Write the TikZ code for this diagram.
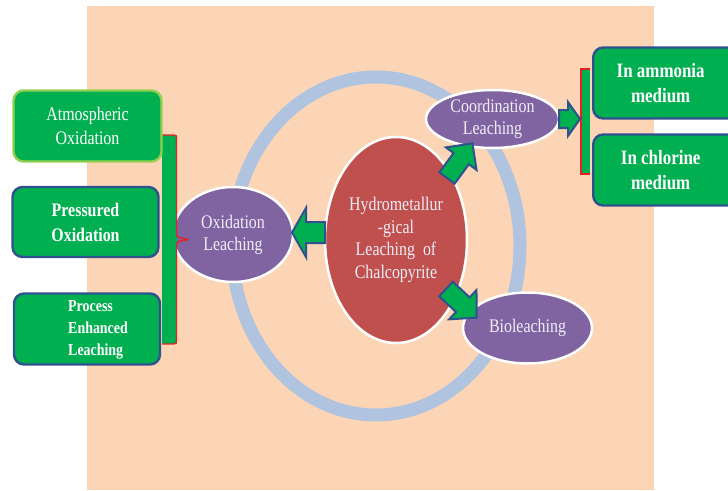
\documentclass[tikz,border=0pt]{standalone}
\usepackage{fontspec}
\setmainfont{Liberation Serif}[FakeStretch=0.83]
\usetikzlibrary{shapes.geometric}
\definecolor{peach}{RGB}{251,213,181}
\definecolor{ringc}{RGB}{176,196,224}
\definecolor{boxgreen}{RGB}{0,176,80}
\definecolor{boxblue}{RGB}{47,82,143}
\definecolor{lightgreen}{RGB}{146,208,80}
\definecolor{purp}{RGB}{128,100,162}
\definecolor{redell}{RGB}{192,80,77}
\definecolor{brred}{RGB}{232,32,32}
\definecolor{lav}{RGB}{240,236,248}
\newcommand\blockarrow[6]{%
  \begin{scope}[shift={(#1)},rotate=#2]
    \draw[barrow] (0,-#4) -- ({#3-#6},-#4) -- ({#3-#6},-#5) -- (#3,0)
      -- ({#3-#6},#5) -- ({#3-#6},#4) -- (0,#4) -- cycle;
  \end{scope}}
\tikzset{
  gbox/.style={draw=boxblue, fill=boxgreen, line width=2.4pt, rounded corners=10pt,
    text=white, align=center, inner sep=0pt},
  ell/.style={ellipse, draw=white, line width=2.5pt, text=lav, align=center, inner sep=0pt,
    font=\fontsize{19.2}{22}\selectfont},
  barrow/.style={draw=boxblue, fill=boxgreen, line width=2pt, line join=miter},
}
\begin{document}
\begin{tikzpicture}[x=1pt,y=-1pt]
\clip (0,0) rectangle (728,490);
\useasboundingbox (0,0) rectangle (728,490);
% background
\fill[peach] (87,6) rectangle (654,490);
% ring
\draw[ringc, line width=13pt] (376,246) ellipse [x radius=144, y radius=169];
% ellipses
\node[ell, fill=redell, minimum width=142pt, minimum height=206pt,
  font=\fontsize{19.2}{22.5}\selectfont] (hyd) at (396,240)
  {Hydrometallur\\-gical\\Leaching\ \ of\\Chalcopyrite};
\node[ell, fill=purp, minimum width=120pt, minimum height=95pt] (oxl) at (233,234.5)
  {Oxidation\\Leaching};
\node[ell, fill=purp, minimum width=133pt, minimum height=58pt] (col) at (492.5,119)
  {Coordination\\Leaching};
\node[ell, fill=purp, minimum width=129pt, minimum height=71pt] (bio) at (527.5,328)
  {Bioleaching};
% left bracket
\fill[boxgreen] (162,135) rectangle (176.5,344);
\draw[brred, line width=1.3pt, rounded corners=2.5pt]
  (162,135) -- (176.5,135) -- (176.5,237) -- (189,239.5) -- (176.5,242)
  -- (176.5,344) -- (162,344);
% right bracket
\fill[boxgreen] (581,69) rectangle (590,174);
\draw[brred, line width=1.6pt] (590,69) -- (581,69) -- (581,174) -- (590,174);
% left boxes
\node[gbox, draw=lightgreen, minimum width=148pt, minimum height=71pt,
  font=\fontsize{19.2}{24}\selectfont] (atm) at (87.5,126) {Atmospheric\\Oxidation};
\node[gbox, minimum width=146pt, minimum height=70pt,
  font=\fontsize{19.2}{25}\selectfont\bfseries] (prs) at (85.5,222) {Pressured\\Oxidation};
\node[gbox, minimum width=146pt, minimum height=71pt] (proc) at (87,329) {};
\node[text=white, align=left, anchor=west, inner sep=0pt,
  font=\fontsize{16.8}{22}\selectfont\bfseries] (proctext) at (68,330)
  {Process\\Enhanced\\Leaching};
% right boxes
\node[gbox, minimum width=160pt, minimum height=71pt, anchor=west,
  font=\fontsize{20.4}{25}\selectfont\bfseries] (amm) at (592,83) {\hspace*{-25pt}In ammonia\\\hspace*{-25pt}medium};
\node[gbox, minimum width=160pt, minimum height=71pt, anchor=west,
  font=\fontsize{20.4}{25}\selectfont\bfseries] (chl) at (592,170) {\hspace*{-25pt}In chlorine\\\hspace*{-25pt}medium};
% block arrows
\coordinate (a1) at (325,232.5);
\coordinate (a2) at (447,178);
\coordinate (a3) at (446,289);
\coordinate (a4) at (559,119);
\blockarrow{a1}{180}{33}{10.5}{24.5}{14}
\blockarrow{a2}{53.7}{43}{9.5}{19}{19}
\blockarrow{a3}{-43}{42}{10}{20}{19}
\blockarrow{a4}{0}{21}{9}{17}{12}
\end{tikzpicture}
\end{document}
